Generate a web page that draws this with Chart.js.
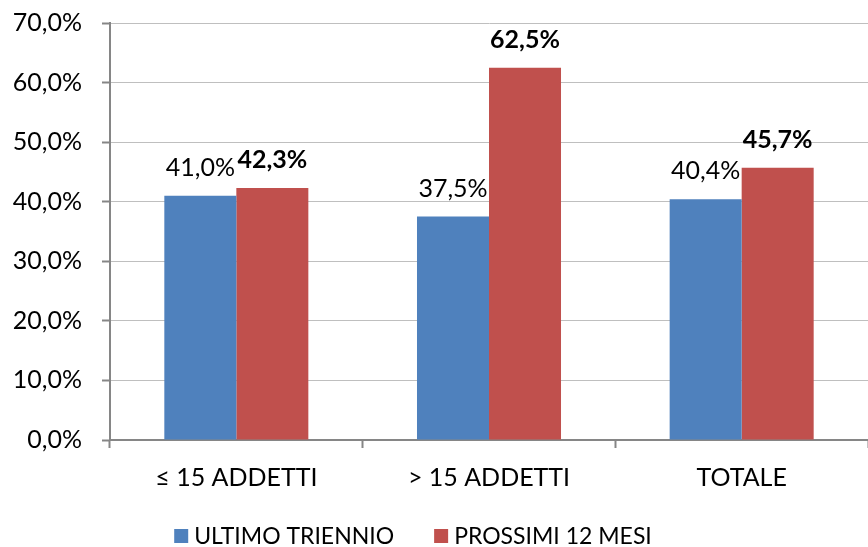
<!DOCTYPE html>
<html>
<head>
<meta charset="utf-8">
<script src="https://cdn.jsdelivr.net/npm/chart.js@4.4.1/dist/chart.umd.min.js"></script>
<style>
  html, body { margin: 0; padding: 0; background: #fff; }
  #wrap { width: 868px; height: 547px; }
</style>
</head>
<body>
<div id="wrap"><canvas id="barChart"></canvas></div>
<script>
const categories = ["≤ 15 ADDETTI", "> 15 ADDETTI", "TOTALE"];
const seriesNames = ["ULTIMO TRIENNIO", "PROSSIMI 12 MESI"];
const ultimoTriennio = [41.0, 37.5, 40.4];
const prossimi12Mesi = [42.3, 62.5, 45.7];
const yTicks = [0, 10, 20, 30, 40, 50, 60, 70];

const FONT = "Lato";
const axisGray = "#868686";

function fmt(v) {
    return v.toFixed(1).replace('.', ',') + '%';
}

// etichette sopra le barre (blu normale, rosso grassetto)
const valueLabels = {
    id: 'valueLabels',
    afterDatasetsDraw(chart) {
        const ctx = chart.ctx;
        ctx.save();
        ctx.fillStyle = '#000';
        ctx.textAlign = 'center';
        ctx.textBaseline = 'alphabetic';
        chart.data.datasets.forEach((ds, i) => {
            const meta = chart.getDatasetMeta(i);
            ctx.font = (i === 1 ? 'bold ' : '') + '25px ' + FONT;
            meta.data.forEach((bar, j) => {
                ctx.fillText(fmt(ds.data[j]), bar.x, bar.y - 20);
            });
        });
        ctx.restore();
    }
};

// legenda disegnata a mano sotto il grafico
const bottomLegend = {
    id: 'bottomLegend',
    afterDraw(chart) {
        const ctx = chart.ctx;
        const y = 536;
        const box = 14, gapText = 6, gapItem = 40;
        ctx.save();
        ctx.font = '23px ' + FONT;
        ctx.textBaseline = 'middle';
        ctx.textAlign = 'left';
        const widths = chart.data.datasets.map(ds => ctx.measureText(ds.label).width);
        let total = 0;
        widths.forEach((w, i) => { total += box + gapText + w + (i > 0 ? gapItem : 0); });
        let x = 413 - total / 2;
        chart.data.datasets.forEach((ds, i) => {
            ctx.fillStyle = ds.backgroundColor;
            ctx.fillRect(x, y - 7, box, box);
            ctx.fillStyle = '#000';
            ctx.fillText(ds.label, x + box + gapText, y + 1);
            x += box + gapText + widths[i] + gapItem;
        });
        ctx.restore();
    }
};

const ctx = document.getElementById('barChart').getContext('2d');
window.myBarChart = new Chart(ctx, {
    type: 'bar',
    data: {
        labels: categories,
        datasets: [{
            label: seriesNames[0],
            data: ultimoTriennio,
            backgroundColor: "#4F81BD",
            borderWidth: 0
        }, {
            label: seriesNames[1],
            data: prossimi12Mesi,
            backgroundColor: "#C0504D",
            borderWidth: 0
        }]
    },
    options: {
        responsive: true,
        maintainAspectRatio: false,
        animation: false,
        layout: { padding: { top: 23, right: 0, bottom: 39, left: 0 } },
        plugins: {
            legend: { display: false },
            tooltip: { enabled: false }
        },
        datasets: {
            bar: { categoryPercentage: 0.57, barPercentage: 1 }
        },
        scales: {
            x: {
                grid: {
                    drawOnChartArea: false,
                    drawTicks: true,
                    tickLength: 8,
                    tickColor: axisGray,
                    tickWidth: 2
                },
                border: { display: true, color: axisGray, width: 2 },
                ticks: {
                    color: '#000',
                    padding: 15,
                    font: { family: FONT, size: 25 }
                }
            },
            y: {
                min: 0,
                max: 70,
                afterFit: function (scale) {
                    scale.width = 110;
                    scale.paddingTop = 0;
                    scale.paddingBottom = 0;
                },
                afterBuildTicks: function (scale) {
                    scale.ticks = yTicks.map(v => ({ value: v }));
                },
                grid: {
                    color: '#BFBFBF',
                    lineWidth: 1,
                    borderDash: [3, 2],
                    tickLength: 8,
                    tickColor: axisGray,
                    tickWidth: 2,
                    tickBorderDash: []
                },
                border: { display: true, color: axisGray, width: 2 },
                ticks: {
                    color: '#000',
                    padding: 20,
                    font: { family: FONT, size: 25 },
                    callback: v => fmt(v)
                }
            }
        }
    },
    plugins: [valueLabels, bottomLegend]
});
</script>
</body>
</html>
